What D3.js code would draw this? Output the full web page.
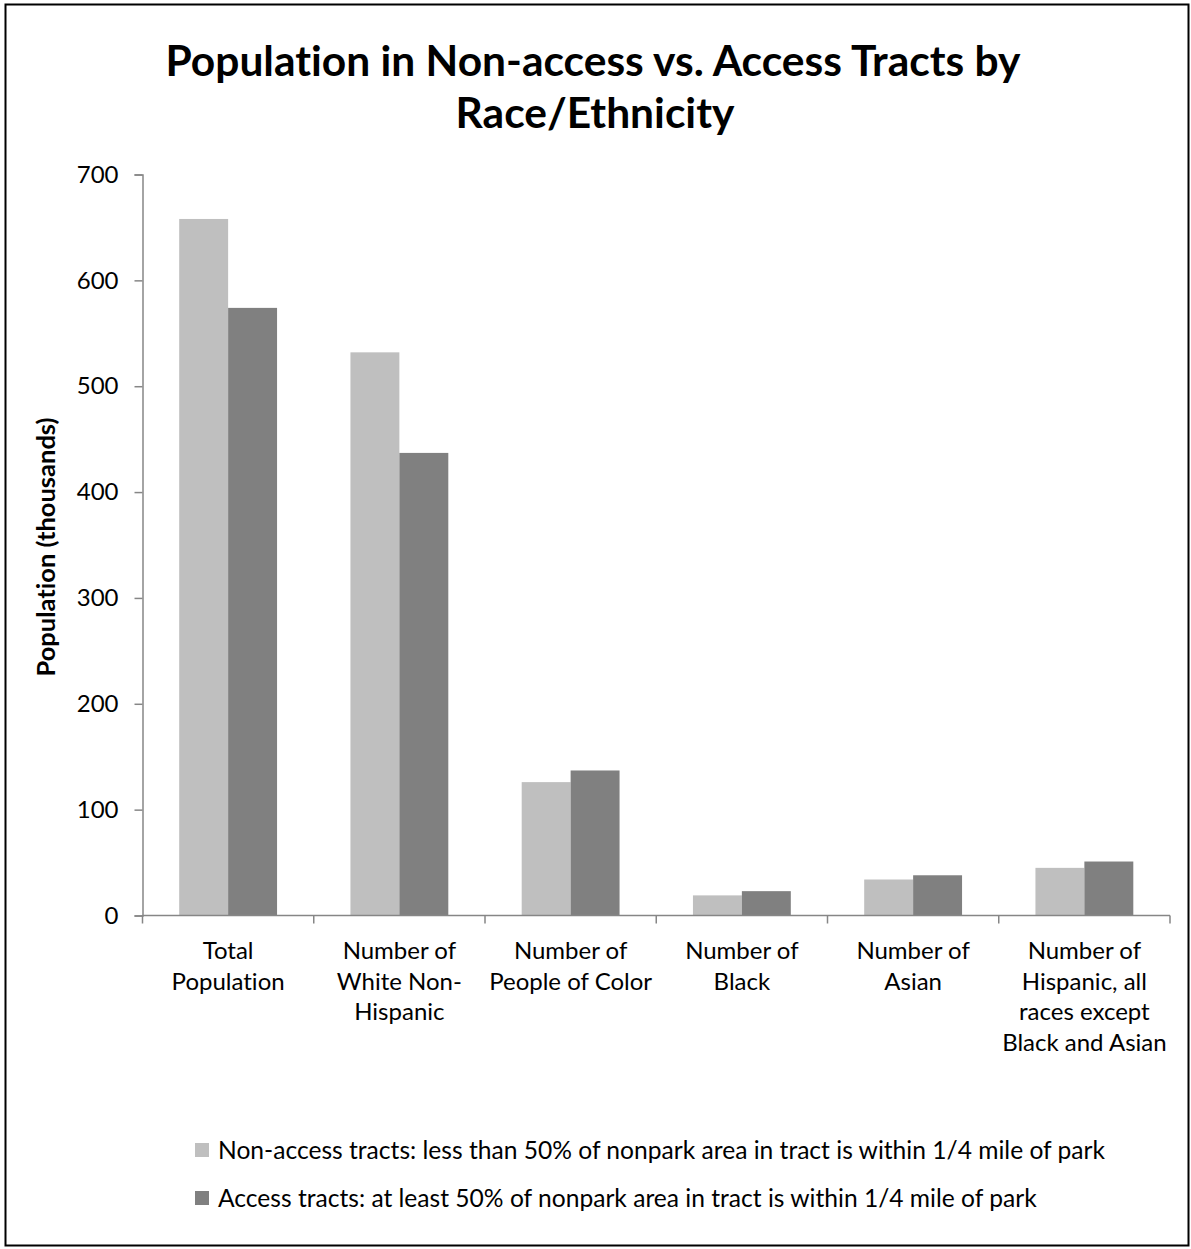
<!DOCTYPE html>
<html>
<head>
<meta charset="utf-8">
<script src="https://cdn.jsdelivr.net/npm/d3@7"></script>
<style>
  html, body { margin: 0; padding: 0; background: #fff; }
  svg { display: block; font-family: Lato, "Open Sans", sans-serif; font-variant-ligatures: none; }
</style>
</head>
<body>
<svg id="chart" width="1191" height="1249"></svg>
<script>
// Population (thousands) in tracts by park access, per race/ethnicity group
const categories = [
  ["Total", "Population"],
  ["Number of", "White Non-", "Hispanic"],
  ["Number of", "People of Color"],
  ["Number of", "Black"],
  ["Number of", "Asian"],
  ["Number of", "Hispanic, all", "races except", "Black and Asian"]
];
const seriesNames = [
  "Non-access tracts: less than 50% of nonpark area in tract is within 1/4 mile of park",
  "Access tracts: at least 50% of nonpark area in tract is within 1/4 mile of park"
];
const nonAccess = [658, 532, 126, 19, 34, 45];
const access    = [574, 437, 137, 23, 38, 51];
const yTicks = [0, 100, 200, 300, 400, 500, 600, 700];

const colors = ["#bfbfbf", "#808080"];
const axisColor = "#868686";

const svg = d3.select("#chart");
const W = 1191, H = 1249;

svg.append("rect").attr("width", W).attr("height", H).attr("fill", "#fff");
svg.append("rect")
  .attr("x", 5.5).attr("y", 4.5).attr("width", 1183).attr("height", 1241)
  .attr("fill", "none").attr("stroke", "#000").attr("stroke-width", 2);

// Title
const title = svg.append("text")
  .attr("text-anchor", "middle").attr("font-weight", "bold")
  .attr("font-size", 42.5).attr("fill", "#000");
title.append("tspan").attr("x", 593).attr("y", 76).text("Population in Non-access vs. Access Tracts by");
title.append("tspan").attr("x", 595).attr("y", 128).text("Race/Ethnicity");

const plot = { left: 142.5, right: 1170, top: 174.5, bottom: 915.5 };

const keys = categories.map((c, i) => "c" + i);
const x0 = d3.scaleBand().domain(keys).range([plot.left, plot.right]).paddingInner(0).paddingOuter(0);
const x1 = d3.scaleBand().domain([0, 1]).range([0, x0.bandwidth()]).paddingInner(0).paddingOuter(0.75);
const y = d3.scaleLinear().domain([0, 700]).range([plot.bottom, plot.top]);

// Bars
const rows = keys.map((k, i) => ({ key: k, values: [nonAccess[i], access[i]] }));
const groups = svg.append("g").selectAll("g").data(rows).join("g")
  .attr("transform", d => `translate(${x0(d.key)},0)`);
groups.selectAll("rect").data(d => d.values.map((v, s) => ({ v, s }))).join("rect")
  .attr("x", d => x1(d.s))
  .attr("width", x1.bandwidth())
  .attr("y", d => y(d.v))
  .attr("height", d => y(0) - y(d.v))
  .attr("fill", d => colors[d.s]);

// Y axis
const yAxis = svg.append("g").attr("transform", `translate(${plot.left},0)`)
  .call(d3.axisLeft(y).tickValues(yTicks).tickSize(8).tickPadding(16).tickFormat(d3.format("d")));
yAxis.select(".domain").attr("stroke", axisColor).attr("stroke-width", 1.5);
yAxis.selectAll(".tick line").attr("stroke", axisColor).attr("stroke-width", 1.5);
yAxis.selectAll(".tick text").attr("font-size", 24).attr("fill", "#000")
  .attr("font-family", "Lato, sans-serif");

// X axis baseline and tick marks at category boundaries
const xAxis = svg.append("g");
xAxis.append("line")
  .attr("x1", plot.left).attr("x2", plot.right)
  .attr("y1", y(0)).attr("y2", y(0))
  .attr("stroke", axisColor).attr("stroke-width", 1.5);
const bounds = keys.map(k => x0(k)).concat([x0(keys[keys.length - 1]) + x0.bandwidth()]);
xAxis.selectAll("line.tk").data(bounds).join("line").attr("class", "tk")
  .attr("x1", d => d).attr("x2", d => d)
  .attr("y1", y(0)).attr("y2", y(0) + 8)
  .attr("stroke", axisColor).attr("stroke-width", 1.5);

// Category labels
const lbl = xAxis.selectAll("text.cat").data(rows).join("text").attr("class", "cat")
  .attr("text-anchor", "middle").attr("font-size", 24).attr("fill", "#000");
lbl.each(function(d, i) {
  const t = d3.select(this);
  const cx = x0(d.key) + x0.bandwidth() / 2;
  categories[i].forEach((line, j) => {
    t.append("tspan").attr("x", cx).attr("y", 959 + j * 30.5).text(line);
  });
});

// Y axis title
svg.append("text")
  .attr("transform", "translate(55,547) rotate(-90)")
  .attr("text-anchor", "middle").attr("font-weight", "bold")
  .attr("font-size", 25.5).attr("fill", "#000")
  .text("Population (thousands)");

// Legend
const legend = svg.append("g").selectAll("g").data(seriesNames).join("g")
  .attr("transform", (d, i) => `translate(195,${1150 + i * 48})`);
legend.append("rect").attr("x", 0).attr("y", -7).attr("width", 14).attr("height", 14)
  .attr("fill", (d, i) => colors[i]);
legend.append("text").attr("x", 23).attr("y", 0).attr("dy", "0.35em")
  .attr("font-size", 24.6).attr("fill", "#000").text(d => d);
</script>
</body>
</html>
